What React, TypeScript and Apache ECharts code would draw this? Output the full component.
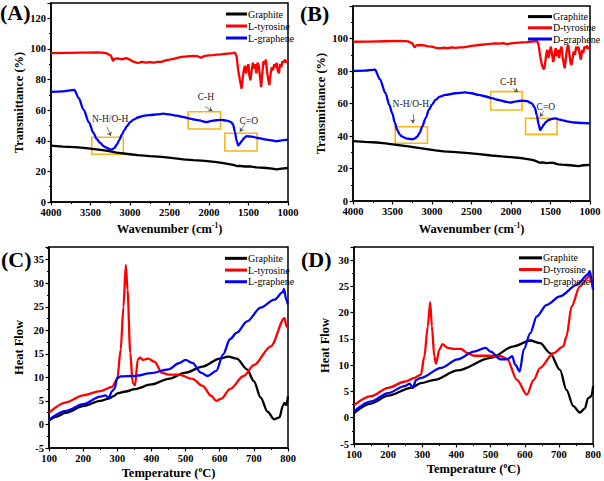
import React, { useEffect, useRef } from 'react';
import * as echarts from 'echarts';

const FONT = '"Liberation Serif", "Times New Roman", serif';

// ---------- FTIR (A) ----------
const ftirA_graphite = [[4000,36.8],[3850,36.2],[3700,35.8],[3588,35.3],[3450,34.5],[3300,33.5],[3167,32.2],[3000,31.2],[2900,30.6],[2746,30],[2600,29.5],[2450,28.6],[2325,27.9],[2200,27.3],[2050,26.8],[1904,26],[1800,25.2],[1694,24.2],[1640,23.4],[1609,23.6],[1550,23.2],[1480,23.3],[1400,22.6],[1273,22.2],[1200,21.8],[1147,21.3],[1080,21.8],[1000,22.2]];
const ftirA_tyrosine = [[4000,97.2],[3800,97.4],[3600,97.6],[3400,97.8],[3300,97.2],[3240,95.5],[3215,92],[3200,93.5],[3150,93.8],[3100,93.2],[3050,94],[3000,93],[2950,91.5],[2900,90.8],[2850,91.5],[2800,91],[2750,91.4],[2700,91],[2650,91.6],[2600,91.5],[2550,92.5],[2500,93],[2450,93.5],[2400,94.2],[2350,94.8],[2300,95],[2250,95.2],[2200,95.5],[2150,95.3],[2100,94.2],[2080,94.8],[2050,95.5],[2000,95.8],[1950,96],[1900,96.3],[1850,96.5],[1800,96.8],[1750,97],[1700,97.3],[1670,97.6],[1650,95],[1630,86],[1610,80],[1595,76],[1588,74],[1575,80],[1560,86],[1545,89],[1530,84],[1515,88],[1500,90],[1490,83],[1475,79.5],[1460,86],[1445,91],[1430,87],[1415,90],[1400,84],[1385,91],[1370,89],[1355,82],[1340,75],[1325,84],[1310,92],[1295,90],[1280,93],[1265,85],[1250,80],[1235,76.5],[1220,84],[1205,88],[1190,86],[1175,90],[1160,88],[1145,91],[1130,86],[1115,84],[1100,90],[1085,88],[1070,92],[1055,91],[1040,93],[1020,91],[1000,92.5]];
const ftirA_graphene = [[4000,71.9],[3850,72.3],[3705,73.2],[3650,68],[3588,60.3],[3520,52],[3461,45],[3420,41],[3377,38.6],[3330,36.3],[3293,35.3],[3260,34.6],[3230,34.2],[3200,35.2],[3167,37.5],[3135,40.5],[3104,44],[3070,47],[3040,49.5],[3000,52],[2956,53.8],[2900,55.2],[2830,56.3],[2750,56.8],[2662,57.2],[2578,57.7],[2500,57.2],[2409,56.4],[2320,55.4],[2241,54.5],[2180,53.8],[2115,53.3],[2070,52.6],[2030,52.2],[1980,52.8],[1904,53.4],[1850,53.6],[1778,53.2],[1720,52.2],[1694,50.5],[1673,46],[1650,40],[1630,36.8],[1610,38],[1588,39.7],[1560,41.5],[1525,43],[1480,42.8],[1441,42.5],[1380,41.8],[1320,41.2],[1273,40.7],[1200,40.2],[1147,39.7],[1080,40.3],[1000,40.7]];
const boxesA = [[[3484,42.3],[3085,31.2]],[[2263,59],[1854,47.7]],[[1799,44.9],[1391,33.3]]];
const labelsA = [['N-H/O-H',3251,54],['C-H',2039,68.8],['C=O',1496,53.1]];
const arrowsA = [[[3293,49.2],[3242,43.1]],[[2052,62.3],[1955,59.5]],[[1547,50.8],[1610,45.9]]];

// ---------- FTIR (B) ----------
const ftirB_graphite = [[4000,36.9],[3850,36.4],[3700,36],[3588,35.5],[3450,34.6],[3300,33.6],[3150,32.5],[2956,31.2],[2850,30.6],[2700,30.1],[2536,29.4],[2400,28.8],[2250,28],[2115,27.4],[2000,27],[1850,26.3],[1750,25.4],[1694,24.8],[1640,23.6],[1600,23.8],[1550,23.3],[1480,23.6],[1400,22.6],[1357,22.4],[1250,22],[1147,21.4],[1080,22],[1000,22.2]];
const ftirB_tyrosine = [[4000,98],[3800,98.1],[3600,98.3],[3400,98.5],[3300,98.2],[3250,97],[3220,94.5],[3200,95.8],[3150,96],[3100,95.8],[3050,95.2],[3000,95],[2950,94.2],[2900,94],[2850,94.3],[2800,94],[2750,94.5],[2700,94.2],[2650,94.5],[2600,94.6],[2550,95],[2500,95.5],[2400,96],[2300,96.5],[2200,97],[2150,96.8],[2100,97.2],[2050,96.5],[2000,97],[1900,97.5],[1800,97.8],[1700,98.3],[1670,98.5],[1650,96],[1630,89],[1610,84],[1595,82],[1581,81],[1570,84],[1555,90],[1540,93],[1525,88],[1510,92],[1495,95],[1480,90],[1465,85.5],[1450,90],[1435,94],[1420,89],[1405,93],[1390,88],[1375,93],[1360,95],[1345,88],[1320,81.6],[1305,88],[1290,94],[1275,96],[1260,90],[1245,85],[1235,83.7],[1220,88],[1205,92],[1190,90],[1175,95],[1160,93],[1145,95],[1130,90],[1115,87],[1100,93],[1085,91],[1070,95],[1055,94],[1040,95.5],[1020,93.5],[1000,95]];
const ftirB_graphene = [[4000,80],[3850,80.2],[3722,80.8],[3660,75],[3588,66.3],[3540,59],[3503,54],[3470,48],[3440,43.7],[3410,41],[3377,39.6],[3320,38.4],[3251,38],[3215,38.5],[3188,39.6],[3155,42],[3125,45.7],[3080,51],[3040,56],[3000,59.3],[2956,62.2],[2900,64.2],[2830,65.3],[2700,66.3],[2578,66.8],[2500,66.3],[2409,65.3],[2320,64.3],[2241,63.3],[2170,62.3],[2115,61.7],[2060,61],[2010,60.6],[1950,61.2],[1862,61.7],[1800,61.5],[1736,60.1],[1700,57.5],[1673,52.9],[1650,47],[1630,43.7],[1610,45],[1588,46.8],[1560,48.5],[1525,49.8],[1480,50.5],[1441,50.9],[1380,50],[1320,49.4],[1273,48.8],[1200,48.3],[1100,48],[1000,47.8]];
const boxesB = [[[3466,45.7],[3058,35.5]],[[2258,67.3],[1859,56]],[[1816,50.9],[1417,41]]];
const labelsB = [['N-H/O-H',3268,59.7],['C-H',2035,73.4],['C=O',1559,58]];
const arrowsB = [[[3243,53.5],[3243,47.8]],[[1980,69.4],[1909,67.1]],[[1585,55.4],[1635,51.9]]];

// ---------- DSC (C) ----------
const dscC_graphite = [[100,0.8],[120,1.6],[150,2.5],[200,3.9],[250,5],[275,5.5],[290,6],[300,6.6],[325,7],[350,7.5],[400,8.5],[450,9.7],[500,11],[550,12.3],[600,14],[625,14.4],[650,14],[680,11.7],[700,9.2],[720,5.7],[740,2.7],[760,1.1],[775,1.5],[785,4],[790,4.6],[795,4.1],[800,6]];
const dscC_tyrosine = [[100,2.5],[150,4.7],[200,6.2],[250,7.1],[285,8],[300,9.7],[310,15.9],[318,25],[325,33.9],[330,28.6],[338,15.2],[345,8.9],[352,8.3],[360,13.8],[367,14.2],[375,13.7],[390,14],[410,13.3],[430,11],[450,10.6],[480,10.6],[520,9.7],[550,8.2],[575,6.1],[590,5],[605,5.5],[630,7.5],[670,10.3],[700,12.6],[750,16.6],[790,22.6],[795,20.9],[800,20.5]];
const dscC_graphene = [[100,1],[150,2.9],[200,4.3],[250,5.9],[265,6.2],[275,5.7],[285,7.1],[292,7.6],[300,9.9],[310,10.2],[350,10.3],[400,10.9],[450,11.7],[480,13],[500,13.7],[520,13.1],[545,11],[565,10.3],[590,11.4],[610,14.9],[630,18.1],[650,19.5],[680,21.9],[720,24.8],[760,26.5],[785,28.1],[788,28.8],[795,26.5],[800,25.5]];

// ---------- DSC (D) ----------
const dscD_graphite = [[100,0.9],[150,2.7],[200,4.2],[267,5.7],[296,6.6],[335,7.2],[403,9],[500,11.4],[568,13.6],[616,14.7],[645,14.2],[674,12.3],[703,9.1],[722,5.3],[742,2.2],[761,1],[776,1.8],[785,3.7],[795,4.1],[800,6]];
const dscD_tyrosine = [[100,2.4],[150,4.1],[200,5.7],[250,6.9],[277,7.6],[296,8.2],[306,11.7],[316,17.4],[323,22],[328,17.4],[335,11.7],[340,10.3],[350,13],[359,14],[374,13.3],[393,13.1],[413,13.1],[432,12.3],[451,11.8],[490,11.8],[529,11.7],[548,11.2],[577,7.2],[606,4.4],[626,7.2],[645,9.5],[684,12.3],[713,13.6],[722,15.5],[737,21.2],[761,25],[790,27],[795,25.7],[800,24.4]];
const dscD_graphene = [[100,1.2],[150,3.1],[200,4.7],[248,6],[263,6.5],[272,5.7],[282,7.2],[296,7.6],[355,9.5],[403,11.1],[451,12.6],[485,13.3],[500,12.6],[529,11.1],[548,11.1],[563,11.7],[572,10.1],[585,8.8],[597,13],[616,16.1],[635,19.3],[664,21.5],[703,23.1],[752,25.3],[785,27.3],[790,27.9],[795,26.6],[800,24.4]];

const legendA = ['Graphite', 'L-tyrosine', 'L-graphene'];
const legendB = ['Graphite', 'D-tyrosine', 'D-graphene'];

const BLACK = '#000000';
const RED = '#FF0000';
const BLUE = '#0000FF';
const BOX = '#F9B514';

function xAxis(gridIndex: number, min: number, max: number, interval: number, inverse: boolean, name: string, nameGap: number) {
  return {
    type: 'value', gridIndex, min, max, interval, inverse,
    name, nameLocation: 'middle', nameGap,
    nameTextStyle: {
      fontFamily: FONT, fontWeight: 'bold', fontSize: 12.5, color: '#000', lineHeight: 15,
      rich: { sup: { fontFamily: FONT, fontWeight: 'bold', fontSize: 7.5, color: '#000', verticalAlign: 'top', lineHeight: 9 } },
    },
    axisLine: { show: true, onZero: false, lineStyle: { color: '#000', width: 1.5 } },
    axisTick: { show: true, inside: false, length: 3.5, lineStyle: { color: '#000', width: 1.2 } },
    minorTick: { show: true, splitNumber: 2, length: 2, lineStyle: { color: '#000', width: 1 } },
    axisLabel: { fontFamily: FONT, fontWeight: 'bold', fontSize: 10.5, color: '#000', margin: 5, formatter: (v: number) => String(v) },
    splitLine: { show: false },
  };
}
function yAxis(gridIndex: number, min: number, max: number, interval: number, name: string, nameGap: number) {
  return {
    type: 'value', gridIndex, min, max, interval,
    name, nameLocation: 'middle', nameGap,
    nameTextStyle: { fontFamily: FONT, fontWeight: 'bold', fontSize: 12.5, color: '#000' },
    axisLine: { show: true, onZero: false, lineStyle: { color: '#000', width: 1.5 } },
    axisTick: { show: true, inside: false, length: 3.5, lineStyle: { color: '#000', width: 1.2 } },
    minorTick: { show: true, splitNumber: 2, length: 2, lineStyle: { color: '#000', width: 1 } },
    axisLabel: { fontFamily: FONT, fontWeight: 'bold', fontSize: 10.5, color: '#000', margin: 5, showMaxLabel: false, formatter: (v: number) => String(v) },
    splitLine: { show: false },
  };
}

function line(name: string, data: number[][], color: string, idx: number, smooth: number | boolean, extra: any = {}) {
  return {
    type: 'line', name, data, xAxisIndex: idx, yAxisIndex: idx,
    showSymbol: false, symbol: 'none', smooth, smoothMonotone: 'x',
    lineStyle: { color, width: 2.3 }, itemStyle: { color },
    silent: true, animation: false,
    ...extra,
  };
}

function annotations(boxes: number[][][], labels: (string | number)[][], arrows: number[][][]) {
  return {
    markArea: {
      silent: true,
      itemStyle: { color: 'rgba(0,0,0,0)', borderColor: BOX, borderWidth: 1.6 },
      label: { show: false },
      data: boxes.map((b) => [{ coord: b[0] }, { coord: b[1] }]),
    },
    markLine: {
      silent: true,
      symbol: ['none', 'arrow'],
      symbolSize: 4,
      lineStyle: { color: '#555', width: 0.7, type: 'solid' },
      label: { show: false },
      data: arrows.map((a) => [{ coord: a[0] }, { coord: a[1] }]),
    },
    markPoint: {
      silent: true,
      symbol: 'circle',
      symbolSize: 1,
      itemStyle: { color: 'rgba(0,0,0,0)' },
      label: { show: true, position: 'inside', formatter: '{b}', fontFamily: FONT, fontSize: 9.5, color: '#222' },
      data: labels.map((l) => ({ name: l[0] as string, coord: [l[1], l[2]] })),
    },
  };
}

function legend(data: string[], left: number, top: number, w: number, lh: number) {
  return {
    data, orient: 'vertical', left, top, itemWidth: w, itemHeight: 3, itemGap: 0,
    icon: 'rect', selectedMode: false,
    textStyle: { fontFamily: FONT, fontSize: 10, color: '#000', lineHeight: lh, padding: [0, 0, 0, -4] },
  };
}

const option: any = {
  animation: false,
  backgroundColor: '#fff',
  grid: [
    { left: 51, top: 3, width: 237, height: 199, show: true, borderColor: '#000', borderWidth: 1.5, containLabel: false },
    { left: 353, top: 6, width: 237, height: 195, show: true, borderColor: '#000', borderWidth: 1.5, containLabel: false },
    { left: 49, top: 247, width: 239, height: 202, show: true, borderColor: '#000', borderWidth: 1.5, containLabel: false },
    { left: 354, top: 247, width: 241, height: 197, show: true, borderColor: '#000', borderWidth: 1.5, containLabel: false },
  ],
  xAxis: [
    xAxis(0, 1000, 4000, 500, true, 'Wavenumber (cm{sup|-1})', 19),
    xAxis(1, 1000, 4000, 500, true, 'Wavenumber (cm{sup|-1})', 20),
    xAxis(2, 100, 800, 100, false, 'Temperature ({sup|o}C)', 17),
    xAxis(3, 100, 800, 100, false, 'Temperature ({sup|o}C)', 17),
  ],
  yAxis: [
    yAxis(0, 0, 130, 20, 'Transmittance (%)', 26),
    yAxis(1, 0, 120, 20, 'Transmittance (%)', 26),
    yAxis(2, -5, 37.7, 5, 'Heat Flow', 24),
    yAxis(3, -5, 32.5, 5, 'Heat Flow', 23),
  ],
  legend: [
    legend(legendA, 221, 3, 21, 12),
    legend(legendB, 523, 6, 24, 11.2),
    legend(legendA, 220, 247.5, 22, 11.7),
    legend(legendB, 514, 247, 23, 11.7),
  ],
  series: [
    line('Graphite', ftirA_graphite, BLACK, 0, false),
    line('L-tyrosine', ftirA_tyrosine, RED, 0, false),
    line('L-graphene', ftirA_graphene, BLUE, 0, 0.3, annotations(boxesA, labelsA, arrowsA)),
    line('Graphite', ftirB_graphite, BLACK, 1, false),
    line('D-tyrosine', ftirB_tyrosine, RED, 1, false),
    line('D-graphene', ftirB_graphene, BLUE, 1, 0.3, annotations(boxesB, labelsB, arrowsB)),
    line('Graphite', dscC_graphite, BLACK, 2, 0.3),
    line('L-tyrosine', dscC_tyrosine, RED, 2, 0.3),
    line('L-graphene', dscC_graphene, BLUE, 2, 0.3),
    line('Graphite', dscD_graphite, BLACK, 3, 0.3),
    line('D-tyrosine', dscD_tyrosine, RED, 3, 0.3),
    line('D-graphene', dscD_graphene, BLUE, 3, 0.3),
  ],
  graphic: [
    { type: 'text', left: 0, top: 1, style: { text: '(A)', font: `bold 22px ${FONT}`, fill: '#000' } },
    { type: 'text', left: 300, top: 2, style: { text: '(B)', font: `bold 22px ${FONT}`, fill: '#000' } },
    { type: 'text', left: 1, top: 248, style: { text: '(C)', font: `bold 22px ${FONT}`, fill: '#000' } },
    { type: 'text', left: 301, top: 248, style: { text: '(D)', font: `bold 22px ${FONT}`, fill: '#000' } },
  ],
};

export default function App() {
  const ref = useRef<HTMLDivElement>(null);
  useEffect(() => {
    const chart = echarts.init(ref.current as HTMLDivElement, null, { renderer: 'svg' });
    chart.setOption(option);
    return () => chart.dispose();
  }, []);
  return (
    <div
      ref={ref}
      style={{ position: 'fixed', left: 0, top: 0, width: 604, height: 481, background: '#fff' }}
    />
  );
}
